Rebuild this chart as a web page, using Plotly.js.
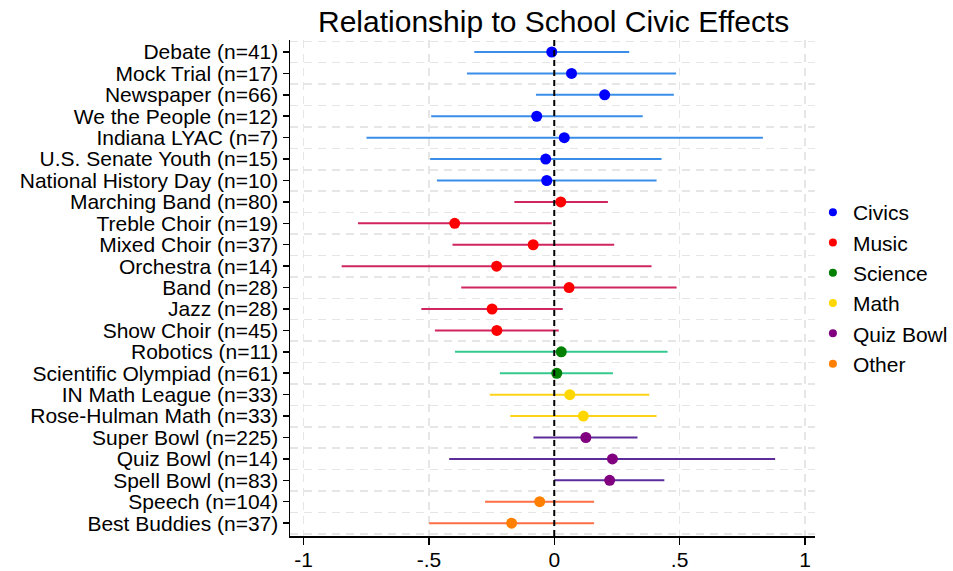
<!DOCTYPE html>
<html><head><meta charset="utf-8">
<script src="https://cdn.plot.ly/plotly-3.0.1.min.js"></script>
<style>html,body{margin:0;padding:0;background:#fff}#chart{width:953px;height:571px}</style>
</head><body><div id="chart"></div>
<script>
const categories = ["Debate (n=41)","Mock Trial (n=17)","Newspaper (n=66)","We the People (n=12)","Indiana LYAC (n=7)","U.S. Senate Youth (n=15)","National History Day (n=10)","Marching Band (n=80)","Treble Choir (n=19)","Mixed Choir (n=37)","Orchestra (n=14)","Band (n=28)","Jazz (n=28)","Show Choir (n=45)","Robotics (n=11)","Scientific Olympiad (n=61)","IN Math League (n=33)","Rose-Hulman Math (n=33)","Super Bowl (n=225)","Quiz Bowl (n=14)","Spell Bowl (n=83)","Speech (n=104)","Best Buddies (n=37)"];
const estimate = [-0.010,0.069,0.201,-0.070,0.040,-0.034,-0.030,0.026,-0.397,-0.084,-0.230,0.059,-0.248,-0.229,0.028,0.010,0.062,0.116,0.126,0.232,0.221,-0.058,-0.170];
const lower = [-0.319,-0.348,-0.073,-0.491,-0.749,-0.495,-0.468,-0.159,-0.783,-0.406,-0.848,-0.371,-0.530,-0.476,-0.396,-0.217,-0.257,-0.175,-0.083,-0.419,0.000,-0.276,-0.499];
const upper = [0.299,0.486,0.477,0.353,0.832,0.428,0.408,0.214,-0.010,0.239,0.388,0.488,0.034,0.018,0.452,0.234,0.379,0.408,0.332,0.881,0.439,0.159,0.159];
const group = ["Civics","Civics","Civics","Civics","Civics","Civics","Civics","Music","Music","Music","Music","Music","Music","Music","Science","Science","Math","Math","Quiz Bowl","Quiz Bowl","Quiz Bowl","Other","Other"];
const groupNames = ["Civics","Music","Science","Math","Quiz Bowl","Other"];
const pointColors = ["#0000ff","#ff0000","#008000","#ffd700","#800080","#ff8000"];
const lineColors = ["#3a8ee8","#d0255e","#34c98e","#ffd21a","#5c2d9a","#ff6f45"];
const xTickVals = [-1,-0.5,0,0.5,1];
const xTickText = ["-1","-.5","0",".5","1"];

const FONT = "Liberation Sans, Arial, Helvetica, sans-serif";
const pos = categories.map((c,i)=>i+1);
const traces = [];
groupNames.forEach((g,gi)=>{
  const idx = group.map((v,i)=>v===g?i:-1).filter(i=>i>=0);
  traces.push({
    type:"scatter", mode:"markers", showlegend:false, hoverinfo:"skip",
    x: idx.map(i=>estimate[i]), y: idx.map(i=>pos[i]),
    marker:{color:pointColors[gi], size:11},
    error_x:{type:"data", symmetric:false,
      array: idx.map(i=>upper[i]-estimate[i]),
      arrayminus: idx.map(i=>estimate[i]-lower[i]),
      color: lineColors[gi], thickness:2, width:0}
  });
});
groupNames.forEach((g,gi)=>{
  traces.push({type:"scatter", mode:"markers", name:g, x:[null], y:[null],
    marker:{color:pointColors[gi], size:8}, showlegend:true});
});

const layout = {
  width:953, height:571,
  margin:{l:290, r:138, t:40, b:35, autoexpand:false},
  paper_bgcolor:"#fff", plot_bgcolor:"#fff",
  font:{family:FONT, color:"#000", size:21},
  title:{text:"Relationship to School Civic Effects", font:{family:FONT, size:30, color:"#000"}, x:0.581, xanchor:"center", y:0.962, yanchor:"middle"},
  xaxis:{range:[-1.054,1.04], tickvals:xTickVals, ticktext:xTickText, ticks:"outside", ticklen:7, tickwidth:1.5, tickcolor:"#000",
    showline:true, linecolor:"#000", linewidth:1.5, zeroline:false, automargin:false, ticklabelstandoff:-3,
    showgrid:true, gridcolor:"#e6e6e6", gridwidth:1.5, griddash:"8px,6px",
    tickfont:{size:21}},
  yaxis:{range:[23.6,0.44], tickvals:pos, ticktext:categories, ticks:"outside", ticklen:6, tickwidth:1.5, tickcolor:"#000",
    showline:true, linecolor:"#000", linewidth:1.5, zeroline:false, showgrid:false, automargin:false,
    minor:{tick0:0.5, dtick:1, showgrid:true, gridcolor:"#e6e6e6", gridwidth:1.5, griddash:"8px,6px", ticks:""},
    tickfont:{size:21}},
  shapes:[{type:"line", xref:"x", yref:"paper", x0:0, x1:0, y0:0, y1:1, line:{color:"#000", width:2, dash:"6px,4px"}}],
  legend:{x:0.996, xanchor:"left", y:0.5, yanchor:"middle", font:{size:21}, tracegroupgap:0, itemsizing:"trace", bgcolor:"rgba(0,0,0,0)"},
  showlegend:true
};
Plotly.newPlot("chart", traces, layout, {staticPlot:true});
</script></body></html>
